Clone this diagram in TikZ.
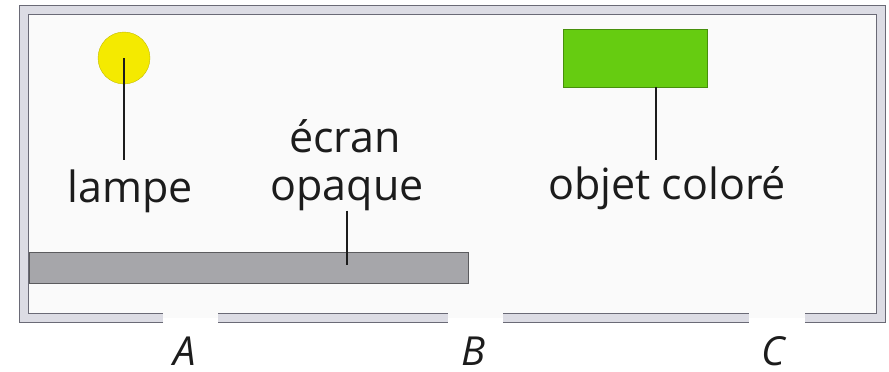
\documentclass[tikz,border=0pt]{standalone}
\usepackage{fontspec}
\setmainfont{Open Sans}
\usetikzlibrary{positioning,calc}
\definecolor{wallgrey}{HTML}{6A6A76}
\definecolor{wallfill}{HTML}{DCDCE4}
\definecolor{lampyellow}{HTML}{F4EA00}
\definecolor{objgreen}{HTML}{66CC11}
\definecolor{screengrey}{HTML}{A6A6AA}
\definecolor{inkgrey}{HTML}{1C1C1C}
\tikzset{
  wall/.style={draw=wallgrey, line width=1.1pt, double=wallfill,
               double distance=7.5pt},
  tag/.style={font=\fontsize{43}{48}\selectfont, text=inkgrey,
              inner sep=0pt, anchor=base},
  gate/.style={font=\fontsize{40}{44}\selectfont\itshape, text=inkgrey,
               inner sep=0pt, anchor=base},
  pointer/.style={draw=inkgrey, line width=1.2pt},
}

\begin{document}
\begin{tikzpicture}[x=1pt, y=-1pt]
\fill[white] (0,0) rectangle (889,372);
\useasboundingbox (0,0) rectangle (889,372);
\fill[white!96!gray] (24,10) rectangle (881,318);

% walls with three openings
\draw[wall] (163,318) -- (24,318) -- (24,10) -- (881,10) -- (881,318) -- (805,318);
\draw[wall] (218,318) -- (448,318);
\draw[wall] (503,318) -- (749,318);

% objects
\node[circle, draw=lampyellow!80!black, fill=lampyellow, minimum size=52pt,
      inner sep=0pt] (lamp) at (124,58) {};
\node[draw=objgreen!70!black, fill=objgreen, minimum width=144pt,
      minimum height=58pt, inner sep=0pt] (objet) at (635,58) {};
\node[draw=screengrey!55!black, fill=screengrey, minimum width=439pt,
      minimum height=31pt, inner sep=0pt] (ecran) at (248.5,267.5) {};

% labels
\node[tag] (lampe) at (130,202) {lampe};
\node[tag] (ecranlbl) at (345,152) {écran};
\node[tag] (opaque) at (347,200) {opaque};
\node[tag] (objetlbl) at (667,199) {objet coloré};

\node[gate] (A) at (185,365) {A};
\node[gate] (B) at (473,365) {B};
\node[gate] (C) at (773,365) {C};

% pointers
\coordinate (lamptip) at (124,160);
\draw[pointer] (lamp.center) -- (lamptip);
\coordinate (objtip) at (656,160);
\draw[pointer] (objtip |- objet.south) -- (objtip);
\coordinate (ecrantip) at (347,265);
\draw[pointer] (opaque.south) -- (ecrantip);
\end{tikzpicture}
\end{document}
